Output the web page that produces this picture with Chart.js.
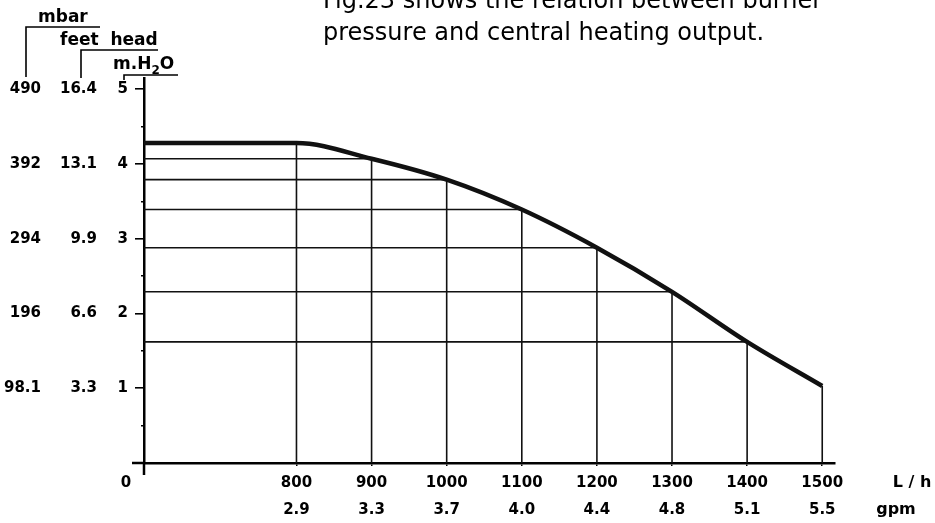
<!DOCTYPE html>
<html>
<head>
<meta charset="utf-8">
<script src="https://cdn.jsdelivr.net/npm/chart.js@4/dist/chart.umd.min.js"></script>
<style>
    html, body { margin: 0; padding: 0; background: #fff; }
    #ChartWrap { width: 935px; height: 523px; }
</style>
</head>
<body>
<div id="ChartWrap"><canvas id="ChartCanvas"></canvas></div>
<script>
// Pump curve: flow (L/h) against head (m H2O)
const flowRates  = [0, 800, 900, 1000, 1100, 1200, 1300, 1400, 1500];
const headMetres = [4.28, 4.28, 4.07, 3.79, 3.39, 2.88, 2.29, 1.62, 1.03];

// Bottom axis tick labels
const flowTicks = [800, 900, 1000, 1100, 1200, 1300, 1400, 1500];
const gpmLabels = ['2.9', '3.3', '3.7', '4.0', '4.4', '4.8', '5.1', '5.5'];

// Left axis tick labels (one per metre of head)
const headTicks   = [1, 2, 3, 4, 5];
const mbarLabels  = ['98.1', '196', '294', '392', '490'];
const feetLabels  = ['3.3', '6.6', '9.9', '13.1', '16.4'];
const headMinorTicks = [0, 0.5, 1, 1.5, 2, 2.5, 3, 3.5, 4, 4.5, 5];

const titleLines = ['Fig.23 shows the relation between burner', 'pressure and central heating output.'];

// The flow axis is broken: 0 sits at the origin, then it jumps to 800
const AXIS_BREAK = 597;
function axisPos(flow)
{
    return flow < 800 ? AXIS_BREAK + flow * (800 - AXIS_BREAK) / 800 : flow;
}

Initialize();

function Initialize()
{
    const FONT = 'DejaVu Sans';
    const ink = '#111';

    // Main curve
    const curve = {
        data: flowRates.map((f, i) => ({ x: axisPos(f), y: headMetres[i] })),
        borderColor: ink,
        borderWidth: 4.5,
        cubicInterpolationMode: 'monotone',
        pointRadius: 0
    };

    // Drop lines from the curve down to the flow axis
    const drops = flowRates.slice(1).map((f, i) => ({
        data: [{ x: axisPos(f), y: 0 }, { x: axisPos(f), y: headMetres[i + 1] }],
        borderColor: ink,
        borderWidth: 1.6,
        pointRadius: 0
    }));

    // Lines across from the head axis to the curve (900..1400)
    const across = flowRates.slice(2, 8).map((f, i) => ({
        data: [{ x: AXIS_BREAK, y: headMetres[i + 2] }, { x: axisPos(f), y: headMetres[i + 2] }],
        borderColor: ink,
        borderWidth: 1.6,
        pointRadius: 0
    }));

    const decorations = {
        id: 'decorations',
        afterDraw(chart)
        {
            const ctx = chart.ctx;
            const area = chart.chartArea;
            const sx = chart.scales.x;
            const sm = chart.scales.yMbar;
            const sf = chart.scales.yFeet;
            const sy = chart.scales.y;
            ctx.save();
            ctx.fillStyle = '#000';
            ctx.strokeStyle = '#000';

            // Caption at the top
            ctx.font = '24px "' + FONT + '"';
            ctx.textAlign = 'left';
            ctx.textBaseline = 'alphabetic';
            ctx.fillText(titleLines[0], 323, 8);
            ctx.fillText(titleLines[1], 323, 40);

            // Axis stubs past the origin
            ctx.lineWidth = 2.5;
            ctx.beginPath();
            ctx.moveTo(area.left - 12, area.bottom);
            ctx.lineTo(area.left, area.bottom);
            ctx.moveTo(area.left, area.bottom);
            ctx.lineTo(area.left, area.bottom + 12);
            ctx.stroke();

            // Origin label
            ctx.font = 'bold 15px "' + FONT + '"';
            ctx.textAlign = 'center';
            ctx.textBaseline = 'middle';
            ctx.fillText('0', sx.left - 18, area.bottom + 20);

            // Units at the end of the flow axis
            ctx.font = 'bold 16px "' + FONT + '"';
            ctx.fillText('L / h', 912, area.bottom + 20);
            ctx.fillText('gpm', 896, area.bottom + 47);

            // Headers with brackets for the three head scales
            ctx.font = 'bold 17px "' + FONT + '"';
            ctx.textAlign = 'left';
            ctx.textBaseline = 'alphabetic';
            ctx.fillText('mbar', sm.left + 38, 22);
            ctx.fillText('feet  head', sf.left + 16, 45);
            ctx.fillText('m.H', sy.left + 13, 69);
            const hw = ctx.measureText('m.H').width;
            ctx.font = 'bold 12px "' + FONT + '"';
            ctx.fillText('2', sy.left + 13 + hw, 74);
            const sw = ctx.measureText('2').width;
            ctx.font = 'bold 17px "' + FONT + '"';
            ctx.fillText('O', sy.left + 13 + hw + sw, 69);

            ctx.lineWidth = 1.6;
            ctx.beginPath();
            ctx.moveTo(sm.left + 26, 77);  ctx.lineTo(sm.left + 26, 27);  ctx.lineTo(sm.left + 100, 27);
            ctx.moveTo(sf.left + 37, 78);  ctx.lineTo(sf.left + 37, 50);  ctx.lineTo(sf.left + 114, 50);
            ctx.moveTo(sy.left + 24, 80);  ctx.lineTo(sy.left + 24, 75);  ctx.lineTo(sy.left + 78, 75);
            ctx.stroke();
            ctx.restore();
        }
    };

    const tickFont = { family: FONT, size: 15, weight: 'bold' };
    const canvas = document.getElementById('ChartCanvas');
    const chart = new Chart(canvas.getContext('2d'), {
        type: 'line',
        data: { datasets: [curve, ...drops, ...across] },
        plugins: [decorations],
        options: {
            responsive: true,
            maintainAspectRatio: false,
            animation: false,
            layout: { padding: { top: 78, right: 100, bottom: 3, left: 0 } },
            plugins: {
                legend: { display: false },
                tooltip: { enabled: false }
            },
            scales: {
                x: {
                    type: 'linear',
                    position: 'bottom',
                    weight: 0,
                    min: AXIS_BREAK,
                    max: 1517,
                    afterBuildTicks: s => { s.ticks = flowTicks.map(v => ({ value: v })); },
                    ticks: {
                        font: tickFont,
                        color: '#000',
                        padding: 8,
                        maxRotation: 0,
                        autoSkip: false,
                        callback: v => String(v)
                    },
                    grid: { drawOnChartArea: false, drawTicks: true, tickLength: 3, color: '#000', lineWidth: 1.5 },
                    border: { color: '#000', width: 2.5 }
                },
                xGpm: {
                    type: 'linear',
                    position: 'bottom',
                    weight: 1,
                    min: AXIS_BREAK,
                    max: 1517,
                    afterBuildTicks: s => { s.ticks = flowTicks.map(v => ({ value: v })); },
                    ticks: {
                        font: tickFont,
                        color: '#000',
                        padding: 1,
                        maxRotation: 0,
                        autoSkip: false,
                        callback: (v, i) => gpmLabels[i]
                    },
                    grid: { display: false, drawTicks: false },
                    border: { display: false }
                },
                y: {
                    position: 'left',
                    weight: 0,
                    min: 0,
                    max: 5.15,
                    afterBuildTicks: s => { s.ticks = headMinorTicks.map(v => ({ value: v })); },
                    afterFit: s => { s.width = 44; },
                    ticks: {
                        font: tickFont,
                        color: '#000',
                        padding: 7,
                        callback: v => headTicks.includes(v) ? String(v) : ''
                    },
                    grid: {
                        drawOnChartArea: false,
                        drawTicks: true,
                        tickLength: 9,
                        tickColor: '#000',
                        tickWidth: 1.6,
                        lineWidth: 1.6,
                        tickBorderDash: c => (c.tick && c.tick.value % 1 !== 0) ? [0, 6, 3, 0] : []
                    },
                    border: { color: '#000', width: 2.5 }
                },
                yFeet: {
                    position: 'left',
                    weight: 1,
                    min: 0,
                    max: 5.15,
                    afterBuildTicks: s => { s.ticks = headTicks.map(v => ({ value: v })); },
                    afterFit: s => { s.width = 56; },
                    ticks: { font: tickFont, color: '#000', padding: 3, callback: (v, i) => feetLabels[i] },
                    grid: { display: false, drawTicks: false },
                    border: { display: false }
                },
                yMbar: {
                    position: 'left',
                    weight: 2,
                    min: 0,
                    max: 5.15,
                    afterBuildTicks: s => { s.ticks = headTicks.map(v => ({ value: v })); },
                    afterFit: s => { s.width = 44; },
                    ticks: { font: tickFont, color: '#000', padding: 3, callback: (v, i) => mbarLabels[i] },
                    grid: { display: false, drawTicks: false },
                    border: { display: false }
                }
            }
        }
    });
}
</script>
</body>
</html>
